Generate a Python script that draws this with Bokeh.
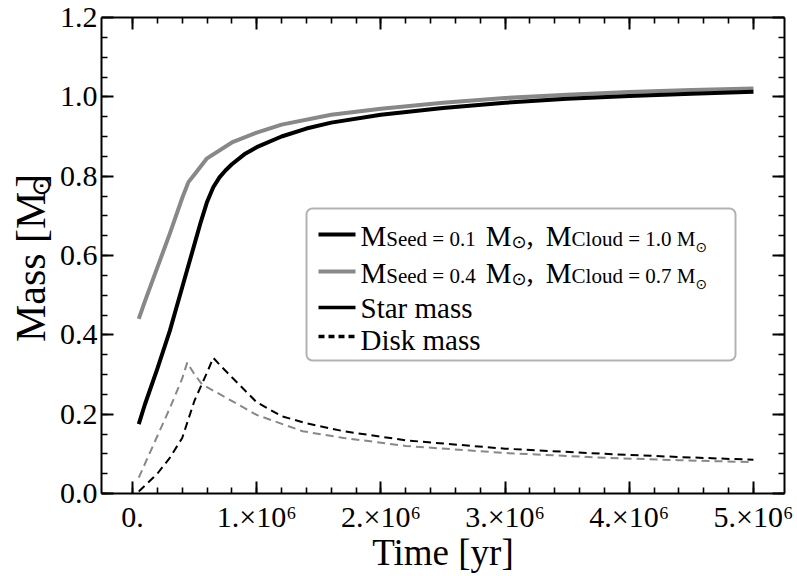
import math
from bokeh.plotting import figure
from bokeh.layouts import row
from bokeh.models import (Range1d, LinearAxis, FixedTicker, PrintfTickFormatter,
                          CustomJSTickFormatter, Label, BoxAnnotation, Arrow)
from bokeh.core.properties import value
from bokeh.embed import file_html
from bokeh.resources import INLINE

# ---------------- data ----------------
# Star mass, M_seed = 0.1, M_cloud = 1.0 (black, solid)
t_star_a = [0.05e6, 0.1e6, 0.2e6, 0.3e6, 0.4e6, 0.5e6, 0.55e6, 0.6e6, 0.65e6, 0.7e6, 0.75e6,
            0.8e6, 0.9e6, 1.0e6, 1.2e6, 1.4e6, 1.6e6, 2.0e6, 2.5e6, 3.0e6, 3.5e6, 4.0e6,
            4.5e6, 5.0e6]
m_star_a = [0.175, 0.225, 0.315, 0.41, 0.52, 0.63, 0.685, 0.735, 0.772, 0.797, 0.815,
            0.83, 0.855, 0.873, 0.90, 0.92, 0.935, 0.955, 0.972, 0.985, 0.995, 1.002,
            1.008, 1.013]
# Star mass, M_seed = 0.4, M_cloud = 0.7 (gray, solid)
t_star_b = [0.05e6, 0.1e6, 0.2e6, 0.3e6, 0.4e6, 0.45e6, 0.5e6, 0.6e6, 0.8e6, 1.0e6,
            1.2e6, 1.6e6, 2.0e6, 2.5e6, 3.0e6, 3.5e6, 4.0e6, 4.5e6, 5.0e6]
m_star_b = [0.44, 0.485, 0.57, 0.655, 0.745, 0.785, 0.805, 0.845, 0.885, 0.91,
            0.93, 0.955, 0.97, 0.985, 0.997, 1.005, 1.012, 1.017, 1.021]
# Disk mass, M_seed = 0.1 (black, dashed)
t_disk_a = [0.05e6, 0.1e6, 0.2e6, 0.3e6, 0.4e6, 0.5e6, 0.55e6, 0.6e6, 0.65e6, 0.7e6,
            0.8e6, 1.0e6, 1.2e6, 1.4e6, 1.7e6, 2.2e6, 3.0e6, 3.8e6, 4.4e6, 5.0e6]
m_disk_a = [0.005, 0.02, 0.05, 0.09, 0.14, 0.235, 0.27, 0.305, 0.342, 0.325,
            0.293, 0.23, 0.195, 0.177, 0.157, 0.134, 0.113, 0.10, 0.092, 0.085]
# Disk mass, M_seed = 0.4 (gray, dashed)
t_disk_b = [0.05e6, 0.1e6, 0.2e6, 0.3e6, 0.4e6, 0.44e6, 0.5e6, 0.56e6, 0.75e6, 1.0e6,
            1.37e6, 1.7e6, 2.2e6, 3.0e6, 3.8e6, 4.4e6, 5.0e6]
m_disk_b = [0.04, 0.075, 0.145, 0.215, 0.29, 0.33, 0.30, 0.275, 0.242, 0.198,
            0.157, 0.14, 0.12, 0.102, 0.09, 0.084, 0.079]

xtick_vals = [0, 1000000, 2000000, 3000000, 4000000, 5000000]
xtick_labels = ["0.", "1.×10⁶", "2.×10⁶", "3.×10⁶", "4.×10⁶", "5.×10⁶"]
xminor_vals = [k * 200000 for k in range(0, 26)]
ytick_vals = [0.0, 0.2, 0.4, 0.6, 0.8, 1.0, 1.2]
yminor_vals = [k * 0.05 for k in range(0, 25)]

legend_rows = [
    [("M", "main"), ("Seed = 0.1", "sub"), ("gap", 10), ("M", "main"), ("⊙", "sun"),
     (",", "main"), ("gap", 12), ("M", "main"), ("Cloud = 1.0 M", "sub"), ("⊙", "sun2")],
    [("M", "main"), ("Seed = 0.4", "sub"), ("gap", 10), ("M", "main"), ("⊙", "sun"),
     (",", "main"), ("gap", 12), ("M", "main"), ("Cloud = 0.7 M", "sub"), ("⊙", "sun2")],
    [("Star mass", "main")],
    [("Disk mass", "main")],
]
ytitle_runs = [("Mass [M", "main"), ("⊙", "sun_y"), ("]", "main")]

GRAY = "#888888"
SERIF = "Liberation Serif"
TEXT_SHIFT = 8     # bokeh's alphabetic anchor sits about this many px below the true baseline
ROT_SHIFT = 0.76   # rotated centred text lands this many em further along its direction

W = {"M": 0.889, "S": 0.556, "e": 0.444, "d": 0.5, " ": 0.25, "=": 0.564, ".": 0.25,
     "C": 0.667, "l": 0.278, "o": 0.5, "u": 0.5, ",": 0.25, "t": 0.278, "a": 0.444,
     "r": 0.333, "m": 0.778, "s": 0.389, "D": 0.722, "i": 0.278, "k": 0.5, "⊙": 0.838,
     "[": 0.333, "]": 0.333, "y": 0.5}

STY = {
    "main": (SERIF, 29, 0),
    "sub": (SERIF, 21, 3),
    "sun": ("DejaVu Sans", 18, 6),
    "sun2": ("DejaVu Sans", 14, 11),
}
# font, size, x of glyph middle (page px)
YSTY = {"main": (SERIF, 42, 45 - 0.3375 * 42), "sun_y": ("DejaVu Sans", 26, 40)}


def adv(text, size):
    return sum(W.get(ch, 0.5) for ch in text) * size


# ---------------- y-axis title panel ----------------
LW = 56
lab = figure(width=LW, height=576, output_backend="svg", toolbar_location=None,
             x_range=Range1d(0, LW), y_range=Range1d(0, 576),
             x_axis_type=None, y_axis_type=None,
             min_border_left=0, min_border_right=0, min_border_top=0, min_border_bottom=0)
lab.grid.visible = False
lab.outline_line_color = None
lab.background_fill_color = "white"
lab.border_fill_color = "white"

Ybot = 345.0
for txt, st in ytitle_runs:
    font, size, xmid = YSTY[st]
    w = adv(txt, size)
    ycen = Ybot - w / 2 + ROT_SHIFT * size
    lab.text(x=[xmid], y=[576 - ycen], text=[txt], angle=math.pi / 2,
             text_font=value(font), text_font_size=value(f"{size}px"),
             text_color="black", text_align="center", text_baseline="middle")
    Ybot -= w

# ---------------- main figure ----------------
FL, FB = 98, 493  # frame left (in whole page) / bottom in canvas px
p = figure(width=797 - LW, height=576, output_backend="svg", toolbar_location=None,
           x_range=Range1d(-0.25e6, 5.25e6), y_range=Range1d(0, 1.2),
           min_border_left=FL - LW, min_border_right=13, min_border_top=17,
           min_border_bottom=83, x_axis_label="Time [yr]")
p.grid.visible = False
p.outline_line_color = None
p.background_fill_color = "white"
p.border_fill_color = "white"

xticker = FixedTicker(ticks=xtick_vals, minor_ticks=xminor_vals)
yticker = FixedTicker(ticks=ytick_vals, minor_ticks=yminor_vals)


def style_axis(ax):
    ax.axis_line_width = 2
    ax.axis_line_color = "black"
    ax.major_tick_line_width = 2
    ax.minor_tick_line_width = 1.6
    ax.major_tick_in = 12
    ax.major_tick_out = 0
    ax.minor_tick_in = 6
    ax.minor_tick_out = 0
    ax.major_label_text_font = SERIF
    ax.major_label_text_font_size = "30px"
    ax.major_label_text_color = "black"
    ax.axis_label_text_font = SERIF
    ax.axis_label_text_font_size = "37px"
    ax.axis_label_text_font_style = "normal"
    ax.axis_label_text_color = "black"


xa = p.xaxis[0]
xa.ticker = xticker
xa.major_label_overrides = dict(zip(xtick_vals, xtick_labels))
style_axis(xa)
xa.major_label_standoff = 6
xa.axis_label_standoff = -4

ya = p.yaxis[0]
ya.ticker = yticker
ya.formatter = PrintfTickFormatter(format="%.1f")
style_axis(ya)
ya.major_label_standoff = 4

for loc, tk in (("above", xticker), ("right", yticker)):
    ax = LinearAxis(ticker=tk, formatter=CustomJSTickFormatter(code="return ''"))
    style_axis(ax)
    ax.major_label_text_font_size = "0px"
    ax.major_label_standoff = 0
    p.add_layout(ax, loc)

# ---------------- curves ----------------
p.line(t_disk_b, m_disk_b, line_color=GRAY, line_width=2, line_dash="8 5")
p.line(t_disk_a, m_disk_a, line_color="black", line_width=2, line_dash="8 5")
p.line(t_star_b, m_star_b, line_color=GRAY, line_width=4, line_join="round")
p.line(t_star_a, m_star_a, line_color="black", line_width=4, line_join="round")


# page px -> frame-relative screen units
def sx(X):
    return X - FL


def sy(Y):
    return FB - Y


# ---------------- legend ----------------
p.add_layout(BoxAnnotation(left=sx(303), right=sx(732), top=sy(208), bottom=sy(360),
                           left_units="screen", right_units="screen",
                           top_units="screen", bottom_units="screen",
                           fill_color="white", fill_alpha=1.0, line_color="black",
                           line_width=2, border_radius=6, level="annotation"))

sample_styles = [("black", 4, "solid"), (GRAY, 4, "solid"), ("black", 3.5, "solid"),
                 ("black", 3.5, "6 4")]
sample_y = [234, 271, 307, 336]
base_y = [243, 280, 315, 347]
for (c, w, d), yy in zip(sample_styles, sample_y):
    p.add_layout(Arrow(end=None, x_start=sx(315), y_start=sy(yy), x_end=sx(352), y_end=sy(yy),
                       start_units="screen", end_units="screen",
                       line_color=c, line_width=w, line_dash=d))

for rw, yb in zip(legend_rows, base_y):
    X = 357.0
    for txt, st in rw:
        if txt == "gap":
            X += st
            continue
        font, size, dy = STY[st]
        p.add_layout(Label(x=sx(X), y=sy(yb + dy - TEXT_SHIFT), x_units="screen",
                           y_units="screen", text=txt, text_font=font,
                           text_font_size=f"{size}px", text_color="black",
                           text_align="left", text_baseline="alphabetic"))
        X += adv(txt, size)

open("out.html", "w").write(file_html(row(lab, p), INLINE))
